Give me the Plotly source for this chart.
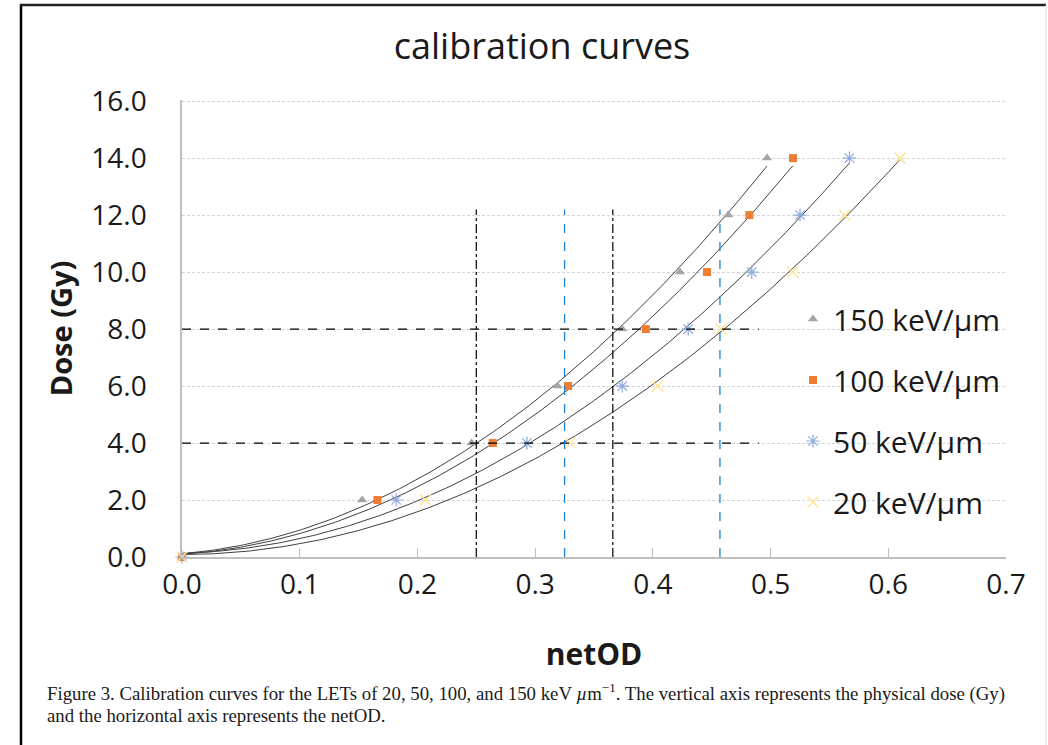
import numpy as np
import plotly.graph_objects as go

# ---- data ----
dose = [0, 2, 4, 6, 8, 10, 12, 14]
netod_150 = [0.0, 0.153, 0.246, 0.319, 0.374, 0.423, 0.464, 0.497]
netod_100 = [0.0, 0.166, 0.264, 0.328, 0.394, 0.446, 0.482, 0.519]
netod_50 = [0.0, 0.182, 0.293, 0.374, 0.430, 0.484, 0.525, 0.567]
netod_20 = [0.0, 0.207, 0.330, 0.404, 0.458, 0.519, 0.563, 0.610]
series_names = ["150 keV/µm", "100 keV/µm", "50 keV/µm", "20 keV/µm"]

ref_dose_levels = [4.0, 8.0]
ref_netod_black = [0.250, 0.366]
ref_netod_blue = [0.325, 0.457]
ref_vline_top = 12.2
ref_hline_end = 0.49

x_ticks = [0.0, 0.1, 0.2, 0.3, 0.4, 0.5, 0.6, 0.7]
y_ticks = [0, 2, 4, 6, 8, 10, 12, 14, 16]

# ---- styling ----
W, H = 1048, 745
L, R, T, B = 182, 42, 100, 188
FONT = "Open Sans"

styles = [
    dict(symbol="triangle-up", color="#a5a5a5", size=9, line=dict(width=0)),
    dict(symbol="square", color="#ed7d31", size=8, line=dict(width=0)),
    dict(symbol="asterisk-open", color="#8faadc", size=11, line=dict(width=1.2, color="#8faadc")),
    dict(symbol="x-thin-open", color="#ffe699", size=11, line=dict(width=1.5, color="#ffe699")),
]

fig = go.Figure()
all_series = [netod_150, netod_100, netod_50, netod_20]

# trend lines (quadratic fits of each series)
for xs in all_series:
    coef = np.polyfit(xs, dose, 2)
    xf = np.linspace(0, max(xs), 200)
    yf = np.polyval(coef, xf)
    fig.add_trace(go.Scatter(x=xf, y=yf, mode="lines", showlegend=False,
                             line=dict(color="#404040", width=1), hoverinfo="skip"))

for i, (xs, name, st) in enumerate(zip(all_series, series_names, styles)):
    fig.add_trace(go.Scatter(x=xs, y=dose, mode="markers", name=name,
                             legendgroup=str(i), cliponaxis=False,
                             marker=st))

# reference lines
for d in ref_dose_levels:
    fig.add_shape(type="line", x0=0, x1=ref_hline_end, y0=d, y1=d, xref="x", yref="y",
                  line=dict(color="black", width=1.2, dash="dash"))
for xv in ref_netod_black:
    fig.add_shape(type="line", x0=xv, x1=xv, y0=0, y1=ref_vline_top, xref="x", yref="y",
                  line=dict(color="black", width=1.2, dash="dashdot"))
for xv in ref_netod_blue:
    fig.add_shape(type="line", x0=xv, x1=xv, y0=0, y1=ref_vline_top, xref="x", yref="y",
                  line=dict(color="#1f7fd6", width=1.3, dash="dash"))

pw = W - L - R
ph = H - T - B
def px(xp):
    return (xp - L) / pw
def py(yp):
    return 1 - (yp - T) / ph

# outer frame
fig.add_shape(type="line", xref="paper", yref="paper", x0=px(21), x1=px(21), y0=py(4), y1=py(760),
              line=dict(color="black", width=2.5))
fig.add_shape(type="line", xref="paper", yref="paper", x0=px(20), x1=px(1046), y0=py(5), y1=py(5),
              line=dict(color="#222222", width=2.5))
fig.add_shape(type="line", xref="paper", yref="paper", x0=px(1046), x1=px(1046), y0=py(5), y1=py(760),
              line=dict(color="#dddddd", width=1))

# caption
cap1 = ("Figure 3. Calibration curves for the LETs of 20, 50, 100, and 150 keV <i>µ</i>m<sup>−1</sup>. "
        "The vertical axis represents the physical dose (Gy)")
cap2 = "and the horizontal axis represents the netOD."
for txt, yy in [(cap1, 692), (cap2, 715)]:
    fig.add_annotation(text=txt, xref="paper", yref="paper", x=px(45), y=py(yy),
                       xanchor="left", yanchor="middle", showarrow=False,
                       font=dict(family="Liberation Serif", size=18.8, color="#1a1a1a"))

fig.update_layout(
    width=W, height=H,
    margin=dict(l=L, r=R, t=T, b=B),
    paper_bgcolor="white", plot_bgcolor="white",
    title=dict(text="calibration curves", x=542 / W, xref="container", xanchor="center",
               y=1 - 46 / H, yref="container", yanchor="middle",
               font=dict(family=FONT, size=36, color="#1a1a1a")),
    xaxis=dict(range=[0, 0.7], tickvals=x_ticks, ticktext=[f"{v:.1f}" for v in x_ticks],
               showgrid=False, zeroline=False, showline=True, linecolor="#bfbfbf", linewidth=1.5,
               ticks="inside", ticklen=9, tickcolor="#bfbfbf", tickwidth=1,
               tickfont=dict(family=FONT, size=28, color="#1a1a1a"), ticklabelstandoff=2,
               title=dict(text="<b>netOD</b>", standoff=43,
                          font=dict(family=FONT, size=30, color="#1a1a1a"))),
    yaxis=dict(range=[0, 16.04], tickvals=y_ticks, ticktext=[f"{v:.1f}" for v in y_ticks],
               showgrid=True, gridcolor="#d4d4d4", griddash="3px,2px", gridwidth=1,
               zeroline=False, showline=True, linecolor="#bfbfbf", linewidth=1.5,
               ticks="", tickfont=dict(family=FONT, size=28, color="#1a1a1a"), ticklabelstandoff=28,
               title=dict(text="<b>Dose (Gy)</b>", standoff=10,
                          font=dict(family=FONT, size=29, color="#1a1a1a"))),
    legend=dict(x=px(793), y=py(293), xanchor="left", yanchor="top",
                bgcolor="rgba(0,0,0,0)", traceorder="grouped", tracegroupgap=19,
                font=dict(family=FONT, size=30, color="#1a1a1a"), itemsizing="trace"),
    showlegend=True,
)

fig.write_html("out.html")
